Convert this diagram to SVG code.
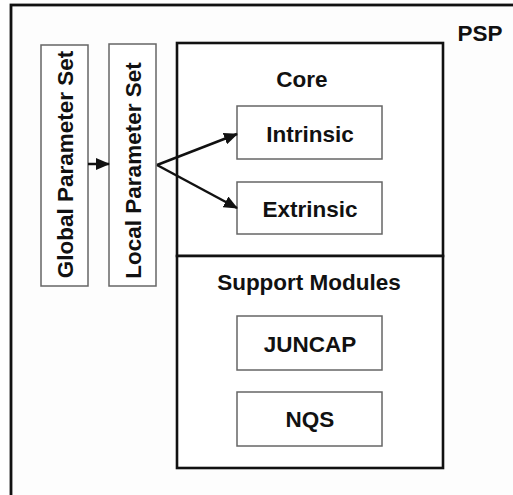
<svg xmlns="http://www.w3.org/2000/svg" width="513" height="495" viewBox="0 0 513 495">
<style>
text{font-family:"Liberation Sans",Arial,sans-serif;font-weight:bold;font-size:22.5px;fill:#111;text-anchor:middle}
.box{fill:#fff;stroke:#666;stroke-width:1.5}
.frame{fill:#fdfdfd;stroke:#111;stroke-width:2.8}
.core{fill:#fff;stroke:#111;stroke-width:2.6}
.conn{stroke:#111;stroke-width:2.5;fill:none}
</style>
<defs>
<marker id="ah" markerWidth="14" markerHeight="12" refX="13" refY="6" orient="auto" markerUnits="userSpaceOnUse">
<path d="M0,0 L14,6 L0,12 Z" fill="#111"/>
</marker>
</defs>
<rect width="513" height="495" fill="#fff"/>
<g id="psp">
<rect class="frame" x="11" y="5" width="510" height="500"/>
<text x="480" y="41">PSP</text>
</g>
<g id="global">
<rect class="box" x="41" y="45" width="47" height="241"/>
<text transform="translate(73,164.5) rotate(-90)">Global Parameter Set</text>
</g>
<g id="local">
<rect class="box" x="109" y="44" width="47" height="242"/>
<text transform="translate(141,170.5) rotate(-90)">Local Parameter Set</text>
</g>
<g id="core">
<rect class="core" x="177" y="43" width="266" height="213"/>
<text x="302" y="87">Core</text>
</g>
<g id="support">
<rect class="core" x="177" y="256" width="266" height="212"/>
<text x="309" y="290">Support Modules</text>
</g>
<g id="intrinsic">
<rect class="box" x="237" y="106" width="145" height="53"/>
<text x="310" y="142">Intrinsic</text>
</g>
<g id="extrinsic">
<rect class="box" x="237" y="182" width="145" height="52"/>
<text x="310" y="217">Extrinsic</text>
</g>
<g id="juncap">
<rect class="box" x="237" y="316" width="145" height="54"/>
<text x="310" y="352">JUNCAP</text>
</g>
<g id="nqs">
<rect class="box" x="237" y="392" width="145" height="54"/>
<text x="310" y="427">NQS</text>
</g>
<g id="connectors">
<line class="conn" x1="88" y1="164" x2="109" y2="164" marker-end="url(#ah)"/>
<line class="conn" x1="157" y1="165" x2="237" y2="134" marker-end="url(#ah)"/>
<line class="conn" x1="157" y1="165" x2="237" y2="208" marker-end="url(#ah)"/>
</g>
</svg>
